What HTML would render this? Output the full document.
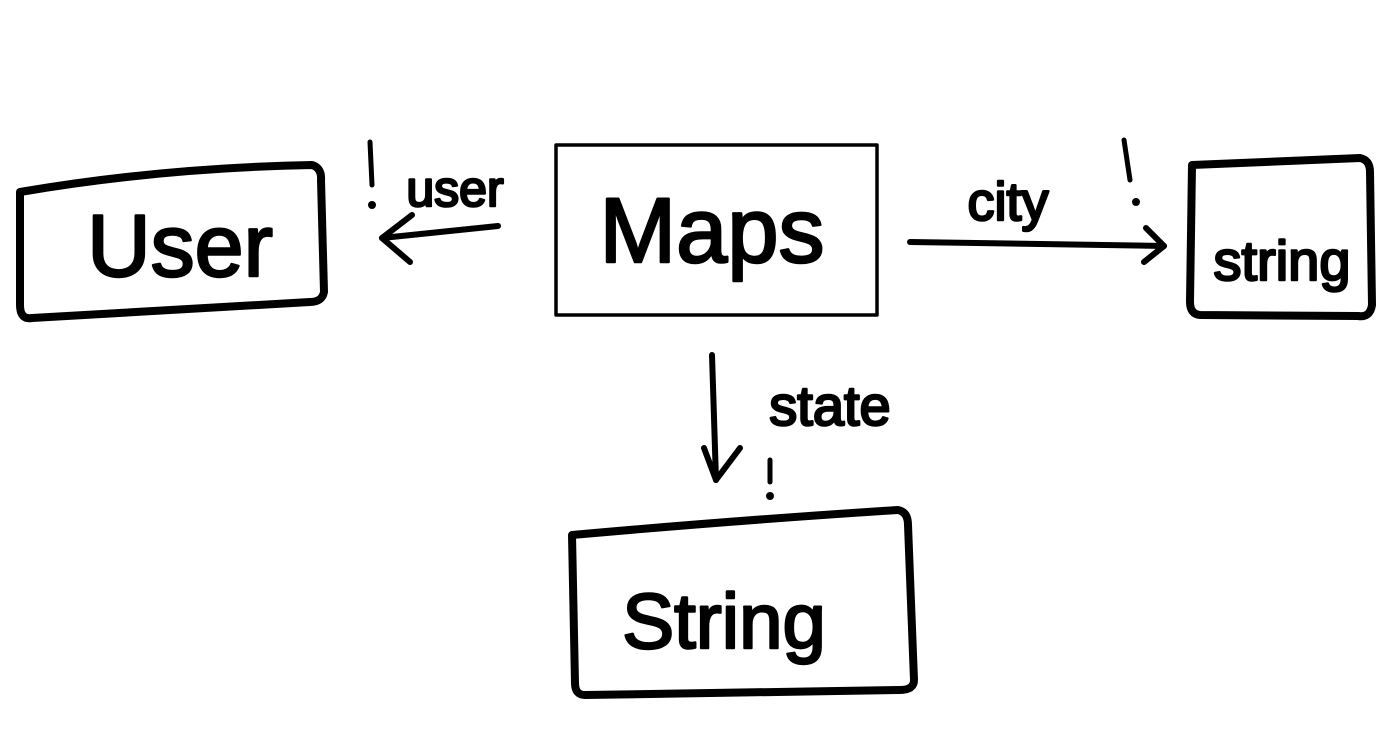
<!DOCTYPE html>
<html><head><meta charset="utf-8"><style>
html,body{margin:0;padding:0;background:#fff;}
svg{display:block;}
text{font-family:"Liberation Sans",sans-serif;fill:#000;stroke:#000;stroke-width:2.5;stroke-linejoin:round;}
</style></head><body>
<svg width="1392" height="748" viewBox="0 0 1392 748" xmlns="http://www.w3.org/2000/svg">
<g fill="none" stroke="#000" stroke-linecap="round" stroke-linejoin="round">
<rect x="556" y="145" width="321" height="170" stroke-width="3.5"/>
<path d="M20 192 Q160 168 312 165 Q322 168 321 180 L324 292 Q322 302 310 302 L32 318 Q20 320 20 305 Z" stroke-width="8"/>
<path d="M1192 165 L1360 158 Q1370 160 1370 172 L1372 305 Q1370 318 1358 316 L1200 315 Q1190 314 1190 302 Z" stroke-width="8"/>
<path d="M572 535 Q740 520 898 510 Q908 512 908 525 L914 680 Q914 690 900 690 L585 695 Q575 695 575 683 Z" stroke-width="8"/>
<path d="M498 226 L382 238" stroke-width="6"/>
<path d="M412 215 L382 238 L410 262" stroke-width="6"/>
<path d="M910 242 L1164 246" stroke-width="6"/>
<path d="M1146 228 L1164 246 L1144 262" stroke-width="6"/>
<path d="M712 355 L716 480" stroke-width="6"/>
<path d="M704 448 L716 480 L740 448" stroke-width="6"/>
<path d="M370 142 L372 185 M1124 140 L1130 180 M770 460 L770 482" stroke-width="5"/>
</g>
<circle cx="372" cy="205" r="4"/>
<circle cx="1136" cy="202" r="4"/>
<circle cx="770" cy="496" r="4"/>
<text x="712" y="262" font-size="92" text-anchor="middle">Maps</text>
<text x="180" y="276" font-size="88" text-anchor="middle">User</text>
<text x="455" y="206" font-size="50" text-anchor="middle">user</text>
<text x="1008" y="220" font-size="54" text-anchor="middle">city</text>
<text x="1282" y="280" font-size="56" text-anchor="middle">string</text>
<text x="830" y="425" font-size="56" text-anchor="middle">state</text>
<text x="724" y="648" font-size="78" text-anchor="middle">String</text>
</svg>
</body></html>
